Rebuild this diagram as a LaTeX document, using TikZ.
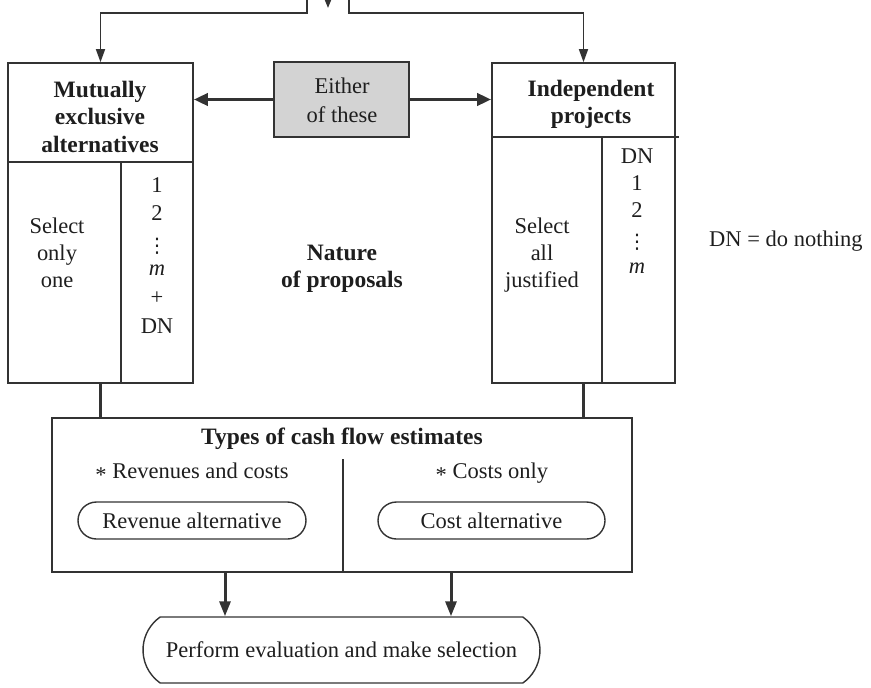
\documentclass[tikz,border=0pt]{standalone}
\usepackage{fontspec}
\setmainfont{Liberation Serif}
\newfontfamily\dvfont{DejaVu Sans}
\usetikzlibrary{arrows.meta,shapes.misc}
\definecolor{ln}{HTML}{333333}
\definecolor{tx}{HTML}{1E1E1E}
\definecolor{gr}{HTML}{D3D3D3}
\newcommand\vdotsx{{\dvfont\fontsize{20}{24}\selectfont ⋮}}
\newcommand\astx{\raisebox{-4pt}{*}}
\begin{document}
\begin{tikzpicture}[x=1pt,y=-1pt,
  txt/.style={font=\fontsize{22.5}{27}\selectfont, text=tx, inner sep=0pt, anchor=base},
  btxt/.style={txt, font=\fontsize{23.5}{27}\selectfont\bfseries},
  frame/.style={draw=ln, line width=1.6pt, inner sep=0pt},
  oval/.style={draw=ln, line width=1.4pt, rounded rectangle, inner sep=0pt},
  thinln/.style={draw=ln, line width=1.5pt},
  hdrln/.style={draw=ln, line width=2.8pt},
  stemln/.style={draw=ln, line width=3pt},
  arr/.style={thinln, -{Triangle[length=13pt,width=9pt]}},
  smallarr/.style={thinln, -{Triangle[length=8pt,width=6pt]}},
  barr/.style={draw=ln, line width=3.5pt, -{Triangle[length=14pt,width=12pt]}},
  darr/.style={draw=ln, line width=3pt, -{Triangle[length=15pt,width=11pt]}},
]
\useasboundingbox (0,0) rectangle (871,688);

% boxes
\node[frame, minimum width=185pt, minimum height=320pt] (lbox) at (100.5,223) {};
\node[frame, minimum width=183pt, minimum height=320pt] (rbox) at (583.5,223) {};
\node[frame, fill=gr, minimum width=135pt, minimum height=75pt] (either) at (341.5,99.5) {};
\node[frame, minimum width=580pt, minimum height=154pt] (cbox) at (342,495) {};

% internal dividers
\draw[hdrln] (lbox.west |- 0,162) -- (lbox.east |- 0,162);
\draw[thinln] (121,162) -- (lbox.south -| 121,0);
\draw[hdrln] (rbox.west |- 0,137) -- ([xshift=3pt]rbox.east |- 0,137);
\draw[thinln] (602,137) -- (rbox.south -| 602,0);
\draw[thinln] (343,459) -- (cbox.south -| 343,0);

% top connectors
\coordinate (tl) at (307,0);
\coordinate (tr) at (349,0);
\coordinate (tm) at (328,-4);
\coordinate (tmt) at (328,8);
\draw[arr] (tl) -- (307,13) -- (lbox.north |- 0,13) -- (lbox.north);
\draw[arr] (tr) -- (349,13) -- (rbox.north |- 0,13) -- (rbox.north);
\draw[smallarr] (tm) -- (tmt);

% either arrows
\draw[barr] (either.west) -- (lbox.east |- either.west);
\draw[barr] (either.east) -- (rbox.west |- either.east);

% stems
\draw[stemln] (lbox.south) -- (lbox.south |- cbox.north);
\draw[stemln] (rbox.south) -- (rbox.south |- cbox.north);

% ovals
\node[oval, minimum width=228pt, minimum height=37pt, txt, anchor=center] (rev) at (192,520.5) {Revenue alternative};
\node[oval, minimum width=227pt, minimum height=37pt, txt, anchor=center] (cost) at (491.5,520.5) {Cost alternative};
\node[oval, rounded rectangle arc length=110, minimum width=397pt, minimum height=66pt, txt, anchor=center] (final) at (341.5,650) {Perform evaluation and make selection};

% bottom arrows
\draw[darr] (cbox.south -| 225,0) -- (final.north -| 225,0);
\draw[darr] (cbox.south -| 451,0) -- (final.north -| 451,0);

% texts: left box
\node[btxt] (m1) at (100,97) {Mutually};
\node[btxt] (m2) at (100,124) {exclusive};
\node[btxt] (m3) at (100,152) {alternatives};
\node[txt] (s1) at (57,233) {Select};
\node[txt] (s2) at (57,260) {only};
\node[txt] (s3) at (57,287) {one};
\node[txt] (c1) at (157,192) {1};
\node[txt] (c2) at (157,220) {2};
\node[txt] (c3) at (157,252) {\vdotsx};
\node[txt] (c4) at (157,275) {\textit{m}};
\node[txt] (c5) at (157,304) {+};
\node[txt] (c6) at (157,333) {DN};

% texts: right box
\node[btxt] (i1) at (591,96) {Independent};
\node[btxt] (i2) at (591,123) {projects};
\node[txt] (j1) at (542,233) {Select};
\node[txt] (j2) at (542,260) {all};
\node[txt] (j3) at (542,287) {justified};
\node[txt] (d1) at (637,163) {DN};
\node[txt] (d2) at (637,190) {1};
\node[txt] (d3) at (637,217) {2};
\node[txt] (d4) at (637,248) {\vdotsx};
\node[txt] (d5) at (637,273) {\textit{m}};

% either text
\node[txt] (e1) at (342,93) {Either};
\node[txt] (e2) at (342,122) {of these};

% middle
\node[btxt] (n1) at (342,260) {Nature};
\node[btxt] (n2) at (342,287) {of proposals};
\node[txt, anchor=base west] (dn) at (709,246) {DN = do nothing};

% cash flow box
\node[btxt] (ct) at (342,444) {Types of cash flow estimates};
\node[txt] (ca) at (192,478) {\astx\ Revenues and costs};
\node[txt] (cb) at (492,478) {\astx\ Costs only};
\end{tikzpicture}
\end{document}
